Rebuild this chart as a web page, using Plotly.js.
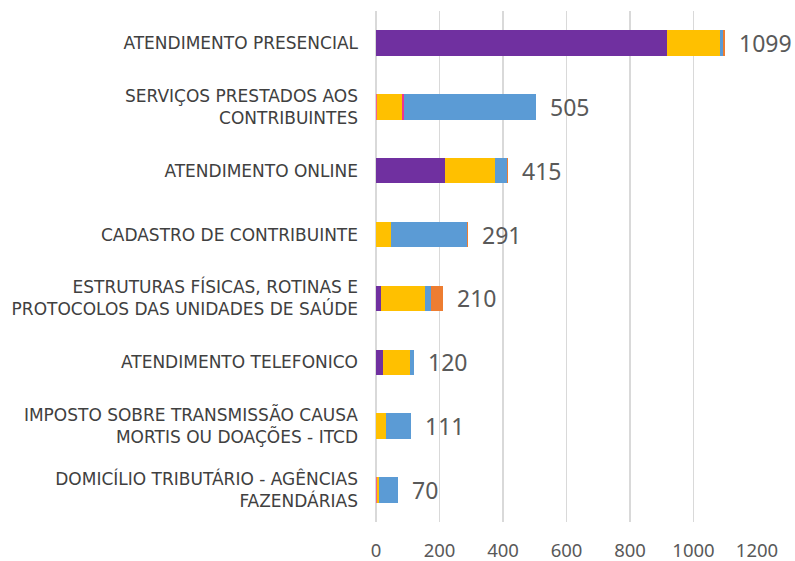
<!DOCTYPE html>
<html>
<head>
<meta charset="utf-8">
<script src="https://cdn.plot.ly/plotly-3.0.1.min.js"></script>
<style>html,body{margin:0;padding:0;background:#fff;}#chart{width:795px;height:561px;}</style>
</head>
<body>
<div id="chart"></div>
<script>
const categories = [
  "ATENDIMENTO PRESENCIAL",
  "SERVIÇOS PRESTADOS AOS<br>CONTRIBUINTES",
  "ATENDIMENTO ONLINE",
  "CADASTRO DE CONTRIBUINTE",
  "ESTRUTURAS FÍSICAS, ROTINAS E<br>PROTOCOLOS DAS UNIDADES DE SAÚDE",
  "ATENDIMENTO TELEFONICO",
  "IMPOSTO SOBRE TRANSMISSÃO CAUSA<br>MORTIS OU DOAÇÕES - ITCD",
  "DOMICÍLIO TRIBUTÁRIO - AGÊNCIAS<br>FAZENDÁRIAS"
];
const seriesPurple  = [915, 0, 217, 0, 16, 22, 0, 0];
const seriesPink    = [0, 3, 0, 0, 0, 0, 0, 4];
const seriesYellow  = [170, 78, 157, 47, 138, 85, 30, 6];
const seriesMagenta = [0, 6, 0, 0, 0, 0, 0, 0];
const seriesBlue    = [7, 418, 38, 241, 19, 13, 81, 60];
const seriesOrange  = [7, 0, 3, 3, 37, 0, 0, 0];
const totals = [1099, 505, 415, 291, 210, 120, 111, 70];
const xTicks = [0, 200, 400, 600, 800, 1000, 1200];

const seriesList = [
  {name: "Série 1", values: seriesPurple, color: "#7030A0"},
  {name: "Série 2", values: seriesPink, color: "#F4648C"},
  {name: "Série 3", values: seriesYellow, color: "#FFC000"},
  {name: "Série 4", values: seriesMagenta, color: "#F0368E"},
  {name: "Série 5", values: seriesBlue, color: "#5B9BD5"},
  {name: "Série 6", values: seriesOrange, color: "#ED7D31"}
];

const traces = seriesList.map(s => ({
  type: "bar",
  orientation: "h",
  name: s.name,
  y: categories,
  x: s.values,
  marker: {color: s.color, line: {width: 0}},
  hoverinfo: "x+name"
}));

const annotations = categories.map((c, i) => ({
  x: totals[i], y: c, xref: "x", yref: "y",
  text: String(totals[i]), showarrow: false,
  xanchor: "left", xshift: 12,
  font: {family: "Noto Sans, sans-serif", size: 23, color: "#595959"}
}));

const layout = {
  width: 795, height: 561,
  margin: {l: 376, r: 38, t: 11, b: 39},
  paper_bgcolor: "#ffffff", plot_bgcolor: "#ffffff",
  barmode: "stack",
  bargap: 0.6,
  showlegend: false,
  xaxis: {
    range: [0, 1200],
    tickvals: xTicks,
    ticktext: xTicks.map(String),
    showgrid: true, gridcolor: "#D9D9D9", gridwidth: 1.5,
    zeroline: true, zerolinecolor: "#D9D9D9", zerolinewidth: 1.5,
    showline: false,
    ticks: "", ticklabelstandoff: 15,
    tickfont: {family: "Noto Sans, sans-serif", size: 18.5, color: "#595959"},
    fixedrange: true
  },
  yaxis: {
    autorange: "reversed",
    showgrid: false, zeroline: false, showline: false,
    ticks: "", ticklabelstandoff: 17,
    tickfont: {family: "DejaVu Sans, sans-serif", size: 17, color: "#404040"},
    fixedrange: true
  },
  annotations: annotations
};

Plotly.newPlot("chart", traces, layout, {displayModeBar: false, staticPlot: true});
</script>
</body>
</html>
